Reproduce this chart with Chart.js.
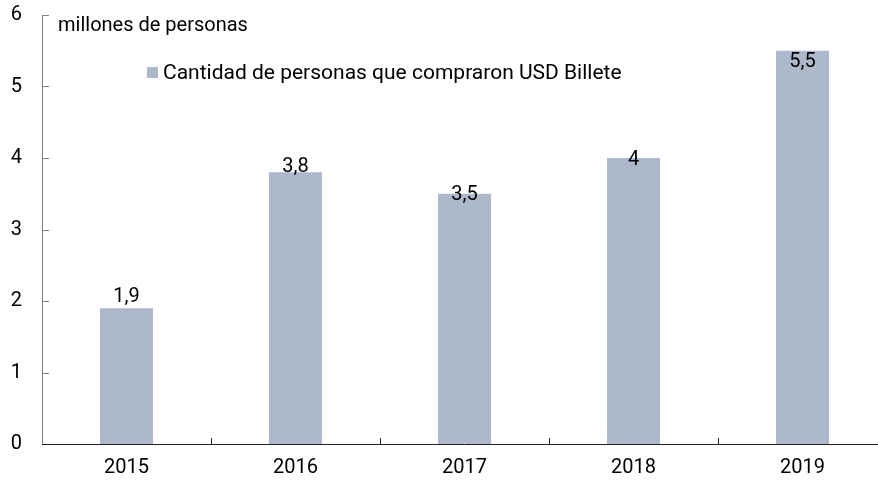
<!DOCTYPE html>
<html>
<head>
<meta charset="utf-8">
<script src="https://cdn.jsdelivr.net/npm/chart.js@4"></script>
<style>
  html, body { margin: 0; padding: 0; background: #fff; overflow: hidden; }
  #wrap { position: relative; width: 887px; height: 484px; }
  #unit { position: absolute; left: 58px; top: 12px; font: 20px Roboto, sans-serif; color: #000; }
  #legend { position: absolute; left: 147px; top: 60px; font: 21px Roboto, sans-serif; color: #000; white-space: nowrap; }
  #legend span { display: inline-block; width: 11px; height: 11px; margin-right: 5px; vertical-align: 1px; }
</style>
</head>
<body>
<div id="wrap">
  <canvas id="chart" width="887" height="484"></canvas>
  <div id="unit">millones de personas</div>
  <div id="legend"><span id="swatch"></span><label id="legendText"></label></div>
</div>
<script>
// data
const years = ['2015', '2016', '2017', '2018', '2019'];
const buyers = [1.9, 3.8, 3.5, 4, 5.5];
const yTicks = [0, 1, 2, 3, 4, 5, 6];
const seriesName = 'Cantidad de personas que compraron USD Billete';

const barColor = '#adb9ca';
// label baseline offset from bar top (as placed in the original)
const labelShift = [-6, 0, 6, 7, 16];

document.getElementById('swatch').style.background = barColor;
document.getElementById('legendText').textContent = seriesName;

// axis lines and inner tick marks
const axesPlugin = {
  id: 'axesPlugin',
  afterDraw(chart) {
    const ctx = chart.ctx;
    const x = chart.scales.x, y = chart.scales.y;
    const area = chart.chartArea;
    ctx.save();
    ctx.lineWidth = 1;
    ctx.strokeStyle = '#808080';
    ctx.beginPath();
    ctx.moveTo(area.left + 0.5, y.getPixelForValue(6));
    ctx.lineTo(area.left + 0.5, area.bottom);
    yTicks.forEach(v => {
      const py = Math.round(y.getPixelForValue(v)) + 0.5;
      ctx.moveTo(area.left, py);
      ctx.lineTo(area.left + 7, py);
    });
    ctx.stroke();
    ctx.strokeStyle = '#222';
    ctx.beginPath();
    ctx.moveTo(area.left, area.bottom + 0.5);
    ctx.lineTo(chart.width, area.bottom + 0.5);
    const step = x.getPixelForValue(1) - x.getPixelForValue(0);
    for (let i = 0; i < years.length - 1; i++) {
      const px = Math.round(x.getPixelForValue(i) + step / 2) + 0.5;
      ctx.moveTo(px, area.bottom);
      ctx.lineTo(px, area.bottom - 6);
    }
    ctx.stroke();
    ctx.restore();
  }
};

// value labels above bars
const valueLabels = {
  id: 'valueLabels',
  afterDatasetsDraw(chart) {
    const ctx = chart.ctx;
    ctx.save();
    ctx.font = '20px Roboto, sans-serif';
    ctx.fillStyle = '#000';
    ctx.textAlign = 'center';
    ctx.textBaseline = 'alphabetic';
    chart.getDatasetMeta(0).data.forEach((bar, i) => {
      const txt = String(buyers[i]).replace('.', ',');
      ctx.fillText(txt, bar.x, bar.y + labelShift[i]);
    });
    ctx.restore();
  }
};

new Chart(document.getElementById('chart'), {
  type: 'bar',
  data: {
    labels: years,
    datasets: [{
      label: seriesName,
      data: buyers,
      backgroundColor: barColor,
      borderWidth: 0,
      categoryPercentage: 1,
      barPercentage: 0.314
    }]
  },
  options: {
    responsive: false,
    animation: false,
    layout: { padding: { top: 15, right: 0, left: 0, bottom: 0 } },
    plugins: { legend: { display: false }, tooltip: { enabled: false } },
    scales: {
      x: {
        grid: { display: false, drawTicks: false },
        border: { display: false },
        ticks: { color: '#000', font: { family: 'Roboto', size: 20 }, padding: 12 },
        afterFit(scale) { scale.height = 40; }
      },
      y: {
        min: 0,
        max: 6,
        grid: { display: false, drawTicks: false },
        border: { display: false },
        ticks: {
          stepSize: 1,
          color: '#000',
          font: { family: 'Roboto', size: 20 },
          padding: 20
        },
        afterFit(scale) {
          scale.width = 42;
          scale.paddingTop = 0;
          scale.paddingBottom = 0;
        }
      }
    }
  },
  plugins: [axesPlugin, valueLabels]
});
</script>
</body>
</html>
